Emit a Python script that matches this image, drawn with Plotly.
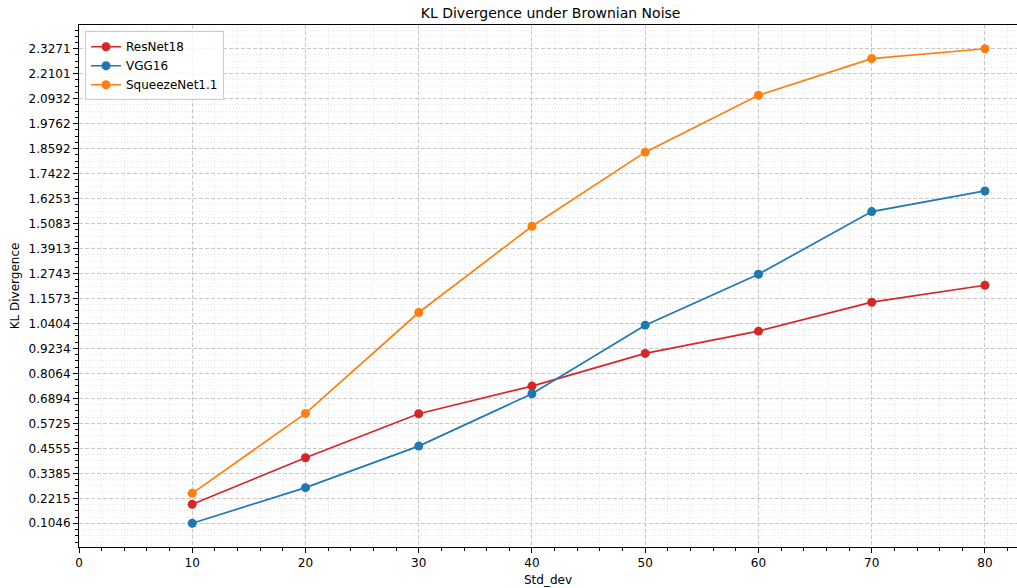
import numpy as np
import plotly.graph_objects as go

# Noise levels (standard deviation of the Brownian noise)
std_dev = [10, 20, 30, 40, 50, 60, 70, 80]

# KL divergence per model
resnet18 = [0.1933, 0.4117, 0.6176, 0.7470, 0.9000, 1.0044, 1.1400, 1.2195]
vgg16 = [0.1046, 0.2714, 0.4660, 0.7110, 1.0323, 1.2710, 1.5643, 1.6610]
squeezenet = [0.2447, 0.6190, 1.0917, 1.4956, 1.8428, 2.1090, 2.2810, 2.3271]

# Y tick labels (evenly spaced between the min and max divergence)
y_tick_labels = ["0.1046", "0.2215", "0.3385", "0.4555", "0.5725", "0.6894",
                 "0.8064", "0.9234", "1.0404", "1.1573", "1.2743", "1.3913",
                 "1.5083", "1.6253", "1.7422", "1.8592", "1.9762", "2.0932",
                 "2.2101", "2.3271"]
x_tick_vals = [0, 10, 20, 30, 40, 50, 60, 70, 80]

y_tick_vals = [float(t) for t in y_tick_labels]
y_step = (y_tick_vals[-1] - y_tick_vals[0]) / (len(y_tick_vals) - 1)
y_lo = y_tick_vals[0] - 0.05 * (y_tick_vals[-1] - y_tick_vals[0])
y_hi = y_tick_vals[-1] + 0.05 * (y_tick_vals[-1] - y_tick_vals[0])
minor_y = [v for v in np.arange(y_tick_vals[0] - 4 * y_step, y_hi, y_step / 4)
           if y_lo <= v <= y_hi]

FONT = "DejaVu Sans"

series = [
    ("ResNet18", resnet18, "#d62728"),
    ("VGG16", vgg16, "#1f77b4"),
    ("SqueezeNet1.1", squeezenet, "#ff7f0e"),
]

fig = go.Figure()
for name, vals, color in series:
    fig.add_trace(go.Scatter(
        x=std_dev, y=vals, name=name, mode="lines+markers",
        line=dict(color=color, width=1.7),
        marker=dict(color=color, size=9),
    ))

fig.update_layout(
    width=1017, height=588,
    margin=dict(l=79, r=0, t=25, b=41),
    paper_bgcolor="white", plot_bgcolor="white",
    font=dict(family=FONT, size=12, color="black"),
    title=dict(text="KL Divergence under Brownian Noise", x=0.5414, xanchor="center",
               y=0.978, yanchor="middle", font=dict(size=14, family=FONT)),
    showlegend=True,
    legend=dict(x=0.0064, y=0.988, xanchor="left", yanchor="top",
                bgcolor="rgba(255,255,255,0.8)", bordercolor="#cccccc", borderwidth=1,
                font=dict(size=12, family=FONT), tracegroupgap=0,
                itemwidth=30),
)

fig.update_xaxes(
    range=[0, 82.83], tickmode="array", tickvals=x_tick_vals,
    showline=True, linecolor="black", linewidth=1, mirror=True,
    ticks="outside", ticklen=5, tickcolor="black", tickwidth=1,
    showgrid=True, gridcolor="#c8c8c8", griddash="4px,2px", gridwidth=1,
    zeroline=False,
    title=dict(text="Std_dev", standoff=6, font=dict(size=12, family=FONT)),
    minor=dict(dtick=2, tick0=0, ticks="outside", ticklen=3, tickcolor="black",
               showgrid=True, gridcolor="#e6e6e6", griddash="1px,2px", gridwidth=1),
)

fig.update_yaxes(
    range=[y_lo, y_hi], tickmode="array", tickvals=y_tick_vals, ticktext=y_tick_labels,
    showline=True, linecolor="black", linewidth=1,
    ticks="outside", ticklen=5, tickcolor="black", tickwidth=1,
    showgrid=True, gridcolor="#c8c8c8", griddash="4px,2px", gridwidth=1,
    zeroline=False,
    title=dict(text="KL Divergence", standoff=6, font=dict(size=12, family=FONT)),
    minor=dict(tickmode="array", tickvals=minor_y, ticks="outside", ticklen=3,
               tickcolor="black", showgrid=True, gridcolor="#e6e6e6",
               griddash="1px,2px", gridwidth=1),
)

fig.write_html("out.html")
